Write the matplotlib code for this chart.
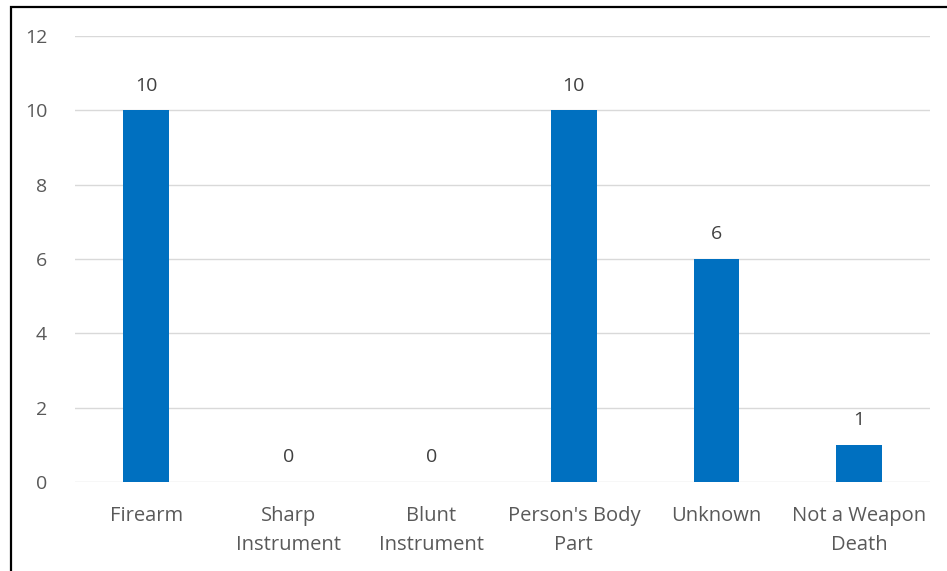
import numpy as np
import matplotlib.pyplot as plt
from matplotlib.patches import Rectangle

plt.rcParams['font.family'] = ['Open Sans', 'DejaVu Sans']

categories = ['Firearm', 'Sharp\nInstrument', 'Blunt\nInstrument',
              "Person's Body\nPart", 'Unknown', 'Not a Weapon\nDeath']
counts = [10, 0, 0, 10, 6, 1]
yticks = [0, 2, 4, 6, 8, 10, 12]

text_color = '#595959'

fig = plt.figure(figsize=(9.47, 5.71), dpi=100)
ax = fig.add_axes([0.0792, 0.156, 0.903, 0.781])

x = np.arange(len(categories))
bars = ax.bar(x, counts, width=0.32, color='#0070C0', zorder=3)
for xi, v in zip(x, counts):
    ax.text(xi, v + 0.42, str(v), ha='center', va='bottom',
            fontsize=14, color='#404040')

ax.set_xlim(-0.5, len(categories) - 0.5)
ax.set_ylim(0, 12)
ax.set_yticks(yticks)
ax.set_xticks(x)
ax.set_xticklabels(categories, fontsize=14.5, color=text_color, linespacing=1.65)
ax.tick_params(axis='y', labelsize=14, labelcolor=text_color, length=0, pad=20)
ax.tick_params(axis='x', length=0, pad=17)
ax.yaxis.grid(True, color='#D9D9D9', linewidth=1, zorder=0)
for s in ax.spines.values():
    s.set_visible(False)

# outer frame, cut off at right and bottom like the source image
fig.patches.append(Rectangle((11 / 947, -0.05), 1.0, 1 - 7 / 571 + 0.05,
                             transform=fig.transFigure, fill=False,
                             edgecolor='black', linewidth=1.6))

fig.savefig('out.png', dpi=100)
